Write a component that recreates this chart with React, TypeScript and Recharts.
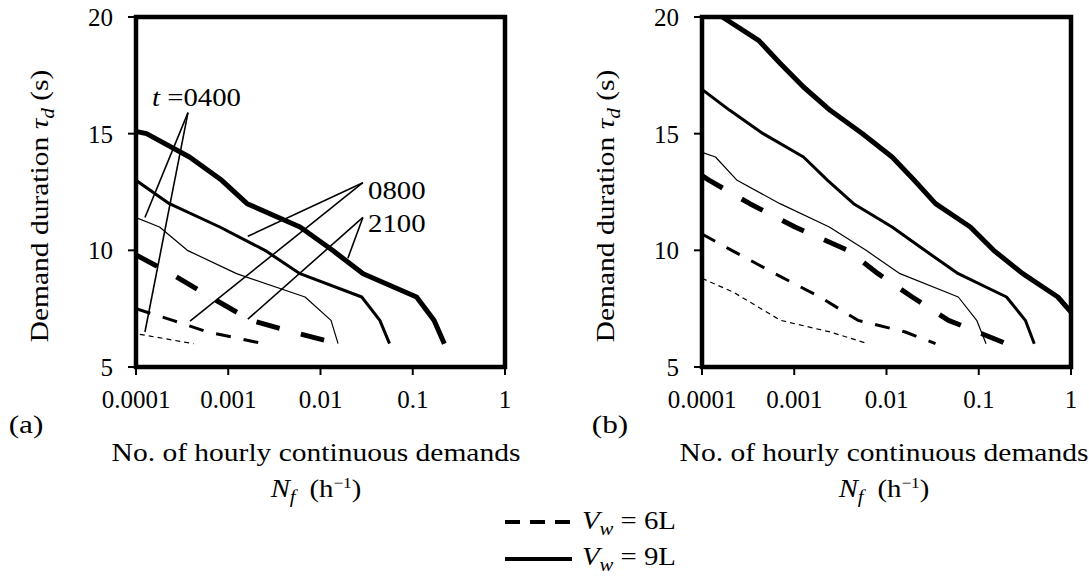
import React from "react";
import {
  LineChart,
  Line,
  XAxis,
  YAxis,
  ReferenceArea,
  ReferenceLine,
} from "recharts";

// x ticks (h^-1, log scale) and y ticks (s)
const xTicks = [0.0001, 0.001, 0.01, 0.1, 1];
const yTicks = [5, 10, 15, 20];

// ---- panel (a) ----
const a2100_9L_N = [0.0001, 0.00013, 0.00038, 0.00085, 0.0016, 0.006, 0.0135, 0.029, 0.11, 0.17, 0.22];
const a2100_9L_T = [15.1, 15, 14, 13, 12, 11, 10, 9, 8, 7, 6];
const a0800_9L_N = [0.0001, 0.00023, 0.00081, 0.0025, 0.006, 0.028, 0.044, 0.056];
const a0800_9L_T = [13, 12, 11, 10, 9, 8, 7, 6];
const a0400_9L_N = [0.0001, 0.00018, 0.00036, 0.00123, 0.0068, 0.013, 0.0155];
const a0400_9L_T = [11.4, 11, 10, 9, 8, 7, 6];
const a2100_6L_N = [0.0001, 0.00024, 0.00064, 0.00176, 0.005, 0.0155];
const a2100_6L_T = [9.8, 9, 8, 7, 6.5, 6];
const a0800_6L_N = [0.0001, 0.00025, 0.0006, 0.0024];
const a0800_6L_T = [7.5, 7, 6.5, 6];
const a0400_6L_N = [0.00011, 0.00042];
const a0400_6L_T = [6.4, 6];

// ---- panel (b) ----
const b2100_9L_N = [0.0001, 0.000166, 0.00041, 0.00071, 0.00126, 0.00245, 0.0055, 0.0115, 0.02, 0.034, 0.081, 0.145, 0.3, 0.72, 1];
const b2100_9L_T = [20.5, 20, 19, 18, 17, 16, 15, 14, 13, 12, 11, 10, 9, 8, 7.35];
const b0800_9L_N = [0.0001, 0.0002, 0.00046, 0.00126, 0.0023, 0.0044, 0.0115, 0.026, 0.06, 0.2, 0.32, 0.4];
const b0800_9L_T = [16.9, 16, 15, 14, 13, 12, 11, 10, 9, 8, 7, 6];
const b0400_9L_N = [0.0001, 0.00014, 0.00024, 0.0007, 0.0024, 0.006, 0.014, 0.06, 0.095, 0.12];
const b0400_9L_T = [14.2, 14, 13, 12, 11, 10, 9, 8, 7, 6];
const b2100_6L_N = [0.0001, 0.00012, 0.00033, 0.00102, 0.0038, 0.0081, 0.019, 0.047, 0.2];
const b2100_6L_T = [13.2, 13, 12, 11, 10, 9, 8, 7, 6];
const b0800_6L_N = [0.0001, 0.00021, 0.00062, 0.0019, 0.0049, 0.016, 0.034];
const b0800_6L_T = [10.7, 10, 9, 8, 7, 6.5, 6];
const b0400_6L_N = [0.0001, 0.00022, 0.00071, 0.00245, 0.0063];
const b0400_6L_T = [8.8, 8.2, 7, 6.5, 6];

// leader lines for the time labels in panel (a): [apex, end]
const lead0400 = [
  [[0.000366, 15.9], [0.000125, 11.41]],
  [[0.000366, 15.9], [0.000125, 6.5]],
];
const lead0800 = [
  [[0.0288, 12.9], [0.00163, 10.6]],
  [[0.0288, 12.9], [0.000385, 6.97]],
];
const lead2100 = [
  [[0.0288, 11.41], [0.00163, 7.05]],
  [[0.0288, 11.41], [0.0198, 9.66]],
];

const pts = (n: number[], t: number[]) => n.map((v, i) => ({ n: v, t: t[i] }));

const THICK = { strokeWidth: 5 };
const MED = { strokeWidth: 3 };
const THIN = { strokeWidth: 1.2 };

const serif = "'Liberation Serif', 'Times New Roman', serif";
const tickStyle = { fontSize: 25, fill: "#000", fontFamily: serif };
const SX = 1.15; // the reference's text is a bit wide

type Series = { data: { n: number; t: number }[]; w: { strokeWidth: number }; dash?: string };

function Panel({
  series,
  leaders,
  width,
  marginLeft,
  marginRight,
}: {
  series: Series[];
  leaders: number[][][][];
  width: number;
  marginLeft: number;
  marginRight: number;
}) {
  return (
    <LineChart
      width={width}
      height={440}
      margin={{ top: 17, right: marginRight, bottom: 33, left: marginLeft }}
    >
      <XAxis
        dataKey="n"
        type="number"
        scale="log"
        domain={[0.0001, 1]}
        ticks={xTicks}
        allowDataOverflow
        axisLine={false}
        tickLine={{ stroke: "#000", strokeWidth: 2 }}
        tickSize={8}
        tickMargin={15}
        height={40}
        tick={tickStyle}
        tickFormatter={(v) => String(v)}
        interval={0}
      />
      <YAxis
        type="number"
        domain={[5, 20]}
        ticks={yTicks}
        allowDataOverflow
        axisLine={false}
        tickLine={{ stroke: "#000", strokeWidth: 2 }}
        tickSize={8}
        tickMargin={15}
        width={60}
        tick={tickStyle}
        interval={0}
      />
      <ReferenceArea
        x1={0.0001}
        x2={1}
        y1={5}
        y2={20}
        fill="none"
        stroke="#000"
        strokeWidth={4.5}
        fillOpacity={0}
      />
      {leaders.map((group, gi) =>
        group.map((seg, si) => (
          <ReferenceLine
            key={`${gi}-${si}`}
            segment={[
              { x: seg[0][0], y: seg[0][1] },
              { x: seg[1][0], y: seg[1][1] },
            ]}
            stroke="#000"
            strokeWidth={1.6}
            ifOverflow="visible"
          />
        ))
      )}
      {series.map((s, i) => (
        <Line
          key={i}
          data={s.data}
          dataKey="t"
          type="linear"
          dot={false}
          activeDot={false}
          stroke="#000"
          strokeWidth={s.w.strokeWidth}
          strokeDasharray={s.dash}
          strokeLinejoin="round"
          isAnimationActive={false}
        />
      ))}
    </LineChart>
  );
}

const seriesA: Series[] = [
  { data: pts(a2100_9L_N, a2100_9L_T), w: THICK },
  { data: pts(a0800_9L_N, a0800_9L_T), w: MED },
  { data: pts(a0400_9L_N, a0400_9L_T), w: THIN },
  { data: pts(a2100_6L_N, a2100_6L_T), w: THICK, dash: "24 22" },
  { data: pts(a0800_6L_N, a0800_6L_T), w: MED, dash: "15 13" },
  { data: pts(a0400_6L_N, a0400_6L_T), w: THIN, dash: "5 4" },
];

const seriesB: Series[] = [
  { data: pts(b2100_9L_N, b2100_9L_T), w: THICK },
  { data: pts(b0800_9L_N, b0800_9L_T), w: MED },
  { data: pts(b0400_9L_N, b0400_9L_T), w: THIN },
  { data: pts(b2100_6L_N, b2100_6L_T), w: THICK, dash: "24 22" },
  { data: pts(b0800_6L_N, b0800_6L_T), w: MED, dash: "15 13" },
  { data: pts(b0400_6L_N, b0400_6L_T), w: THIN, dash: "5 4" },
];

// centred text
const mid = (left: number, top: number, sx = SX, extra: React.CSSProperties = {}): React.CSSProperties => ({
  position: "absolute",
  left,
  top,
  transform: `translate(-50%, -50%) scaleX(${sx})`,
  whiteSpace: "nowrap",
  lineHeight: 1,
  fontSize: 25,
  ...extra,
});

// left-anchored text
const lft = (left: number, top: number, sx = SX): React.CSSProperties => ({
  position: "absolute",
  left,
  top,
  transform: `translateY(-50%) scaleX(${sx})`,
  transformOrigin: "left center",
  whiteSpace: "nowrap",
  lineHeight: 1,
  fontSize: 25,
});

const subStyle: React.CSSProperties = { fontSize: 18, fontStyle: "italic" };

function YTitle({ x }: { x: number }) {
  return (
    <div style={mid(x, 206, 1, { transform: "translate(-50%, -50%) rotate(-90deg) scaleX(1.18)" })}>
      Demand duration <i>τ</i>
      <sub style={subStyle}>d</sub> (s)
    </div>
  );
}

function XTitle({ x }: { x: number }) {
  return (
    <>
      <div style={mid(x, 452, 1.18)}>No. of hourly continuous demands</div>
      <div style={mid(x, 491)}>
        <i>N</i>
        <sub style={subStyle}>f</sub>
        <span style={{ marginLeft: 12 }}>
          (h<sup style={{ fontSize: 15 }}>−1</sup>)
        </span>
      </div>
    </>
  );
}

export default function App() {
  return (
    <div
      style={{
        position: "absolute",
        left: 0,
        top: 0,
        width: 1089,
        height: 580,
        background: "#fff",
        fontFamily: serif,
        color: "#000",
        overflow: "hidden",
      }}
    >
      <div style={{ position: "absolute", left: 0, top: 0 }}>
        <Panel series={seriesA} leaders={[lead0400, lead0800, lead2100]} width={560} marginLeft={76} marginRight={55} />
      </div>
      <div style={{ position: "absolute", left: 560, top: 0 }}>
        <Panel series={seriesB} leaders={[]} width={529} marginLeft={82} marginRight={18} />
      </div>

      {/* time labels, panel (a) */}
      <div style={lft(152, 97)}>
        <i>t</i> =0400
      </div>
      <div style={lft(368, 190)}>0800</div>
      <div style={lft(368, 223)}>2100</div>

      <YTitle x={42} />
      <YTitle x={608} />
      <XTitle x={316} />
      <XTitle x={884} />

      <div style={mid(26, 424, 1.25)}>(a)</div>
      <div style={mid(610, 424, 1.25)}>(b)</div>

      {/* legend */}
      <svg style={{ position: "absolute", left: 500, top: 510 }} width={80} height={60}>
        <line x1={5} y1={12} x2={72} y2={12} stroke="#000" strokeWidth={4} strokeDasharray="15 10" />
        <line x1={5} y1={49} x2={72} y2={49} stroke="#000" strokeWidth={4} />
      </svg>
      <div style={lft(582, 523)}>
        <i>V</i>
        <sub style={subStyle}>w</sub> = 6L
      </div>
      <div style={lft(582, 559)}>
        <i>V</i>
        <sub style={subStyle}>w</sub> = 9L
      </div>
    </div>
  );
}
